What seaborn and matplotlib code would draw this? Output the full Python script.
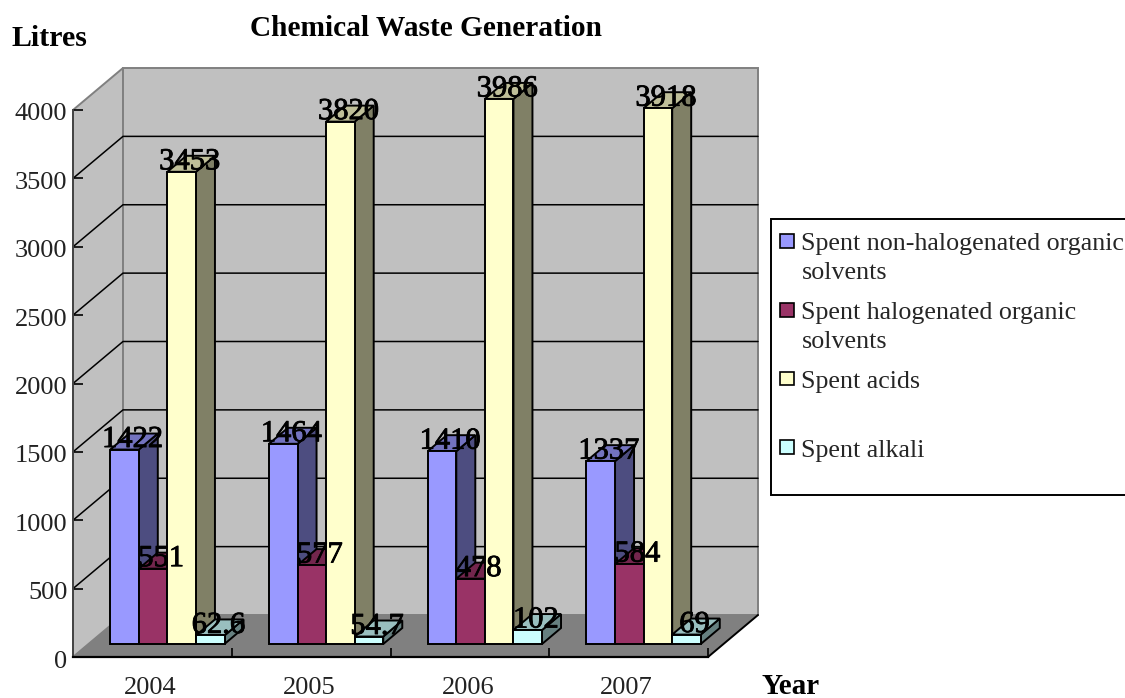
import numpy as np
import pandas as pd
import seaborn as sns
import matplotlib.pyplot as plt
import matplotlib.patheffects as pe
from matplotlib.colors import to_rgb
from matplotlib.legend_handler import HandlerPatch
from matplotlib.patches import Rectangle
from matplotlib.transforms import Affine2D, ScaledTranslation

# values
years = ['2004', '2005', '2006', '2007']
non_halogenated = [1422, 1464, 1410, 1337]
halogenated = [551, 577, 478, 584]
acids = [3453, 3820, 3986, 3918]
alkali = [62.6, 54.7, 102, 69]
bar_labels = [['1422', '1464', '1410', '1337'],
              ['551', '577', '478', '584'],
              ['3453', '3820', '3986', '3918'],
              ['62.6', '54.7', '102', '69']]
waste_names = ['Spent non-halogenated organic\nsolvents',
               'Spent halogenated organic\nsolvents',
               'Spent acids\n ',
               'Spent alkali\n ']
colors = ['#9999FF', '#993366', '#FFFFCC', '#CCFFFF']
y_ticks = [0, 500, 1000, 1500, 2000, 2500, 3000, 3500, 4000]

df = pd.DataFrame({
    'year': years * 4,
    'litres': non_halogenated + halogenated + acids + alkali,
    'waste': np.repeat(waste_names, 4),
})

sns.set_theme(style='white')
plt.rcParams['font.family'] = ['Liberation Serif', 'DejaVu Serif']

W, H = 1125, 698
fig = plt.figure(figsize=(W / 100, H / 100), dpi=100)
ax = fig.add_axes([73 / W, (H - 657) / H, 635 / W, 547 / H])

sns.barplot(data=df, x='year', y='litres', hue='waste', palette=colors,
            saturation=1, width=0.72, gap=0, edgecolor='black', linewidth=1.4,
            ax=ax)
handles, labels = ax.get_legend_handles_labels()
ax.get_legend().remove()
ax.set_xlim(-0.5, 3.5)
ax.set_ylim(0, 4000)
ax.set_xlabel('')
ax.set_ylabel('')

# depth of the fake 3d box, in data units
per_x = 158.75
per_y = 547 / 4000
def px(x_pixels):
    return x_pixels / per_x
def py(y_pixels):
    return y_pixels / per_y

box_x, box_y = px(50), py(42)
x0, x1 = -0.5, 3.5

# walls and floor
ax.fill([x0, x0 + box_x, x0 + box_x, x0], [0, box_y, 4000 + box_y, 4000],
        fc='#C0C0C0', ec='#808080', lw=1.4, zorder=0, clip_on=False)
ax.fill([x0 + box_x, x1 + box_x, x1 + box_x, x0 + box_x],
        [box_y, box_y, 4000 + box_y, 4000 + box_y],
        fc='#C0C0C0', ec='#808080', lw=1.4, zorder=0, clip_on=False)
ax.fill([x0, x1, x1 + box_x, x0 + box_x], [0, 0, box_y, box_y],
        fc='#808080', ec='none', zorder=0.5, clip_on=False)
ax.plot([x1, x1 + box_x], [0, box_y], color='black', lw=1.4, zorder=0.6, clip_on=False)
for t in y_ticks[1:-1]:
    ax.plot([x0, x0 + box_x, x1 + box_x], [t, t + box_y, t + box_y],
            color='black', lw=1.1, zorder=0.6, clip_on=False)

# bars: seaborn draws the front faces, moved to the middle of the floor
shift_x, shift_y = px(15), py(13)
side_x, side_y = px(19), py(16)
shift = Affine2D().translate(shift_x, shift_y) + ax.transData
for s, cont in enumerate(ax.containers):
    front = np.array(to_rgb(colors[s]))
    for c, bar in enumerate(cont):
        x_left = bar.get_x() + shift_x
        x_right = x_left + bar.get_width()
        top = bar.get_height() + shift_y
        base = shift_y
        z = 2 + c + s * 0.2
        bar.set_transform(shift)
        bar.set_clip_on(False)
        bar.set_zorder(z + 0.1)
        ax.fill([x_right, x_right + side_x, x_right + side_x, x_right],
                [base, base + side_y, top + side_y, top],
                fc=front * 0.5, ec='black', lw=1.4, zorder=z, clip_on=False)
        ax.fill([x_left, x_right, x_right + side_x, x_left + side_x],
                [top, top, top + side_y, top + side_y],
                fc=front * 0.75, ec='black', lw=1.4, zorder=z, clip_on=False)
        ax.text(x_left + bar.get_width() / 2 + px(8), top + py(10), bar_labels[s][c],
                ha='center', va='center', fontsize=22, color='black', zorder=50,
                clip_on=False, path_effects=[pe.withStroke(linewidth=0.6, foreground='black')])

# axes
for side in ['top', 'right']:
    ax.spines[side].set_visible(False)
ax.spines['bottom'].set_color('black')
ax.spines['bottom'].set_linewidth(1.6)
ax.spines['bottom'].set_zorder(1)
ax.spines['left'].set_color('#444444')
ax.spines['left'].set_linewidth(1.4)
ax.spines['left'].set_zorder(1)
ax.set_yticks(y_ticks)
ax.tick_params(axis='y', direction='in', length=7.5, width=1.2, color='black',
               left=True, pad=4, labelsize=19, labelcolor='#222222')
ax.set_xticks(range(4))
ax.set_xticks([0.5, 1.5, 2.5, 3.5], minor=True)
ax.tick_params(axis='x', which='major', length=0, pad=13, labelsize=19, labelcolor='#222222')
ax.tick_params(axis='x', which='minor', direction='in', length=6.5, width=1.2,
               color='black', bottom=True)
# labels sit a little low and left of their ticks in the original
nudge = ScaledTranslation(-2 / 100, -2 / 100, fig.dpi_scale_trans)
for lab in ax.get_xticklabels():
    lab.set_transform(lab.get_transform() + nudge)
nudge_y = ScaledTranslation(0, -2 / 100, fig.dpi_scale_trans)
for lab in ax.get_yticklabels():
    lab.set_transform(lab.get_transform() + nudge_y)

# texts, placed in figure pixels
fig.text(250 / W, 1 - 29 / H, 'Chemical Waste Generation', fontsize=21.2, fontweight='bold',
         ha='left', va='center', color='black')
fig.text(12 / W, 1 - 39 / H, 'Litres', fontsize=21.5, fontweight='bold',
         ha='left', va='center', color='black')
fig.text(762 / W, 1 - 694 / H, 'Year', fontsize=21, fontweight='bold',
         ha='left', va='baseline', color='black')

# legend swatch sits on the first text line, not in the middle of the entry
def first_line_swatch(legend, orig_handle, xdescent, ydescent, width, height, fontsize):
    return Rectangle((-xdescent, -ydescent + 14), 10, 10)

# frame runs off the right edge of the picture, so it is drawn on its own
fig.add_artist(Rectangle((771 / W, 1 - 495 / H), 380 / W, 276 / H, transform=fig.transFigure,
                         fc='white', ec='black', lw=1.4, zorder=-1))
leg = ax.legend(handles, labels, loc='upper left', bbox_to_anchor=(771 / W, 1 - 224 / H),
                bbox_transform=fig.transFigure, fontsize=18.75, frameon=False,
                borderaxespad=0, borderpad=0.36,
                handlelength=0.54, handletextpad=0.27, labelspacing=0.707,
                handler_map={h: HandlerPatch(patch_func=first_line_swatch) for h in handles})
leg.set_zorder(60)
for t in leg.get_texts():
    t.set_linespacing(1.38)
for h in leg.get_patches():
    h.set_edgecolor('black')
    h.set_linewidth(1.2)

fig.savefig('out.png', dpi=100)
